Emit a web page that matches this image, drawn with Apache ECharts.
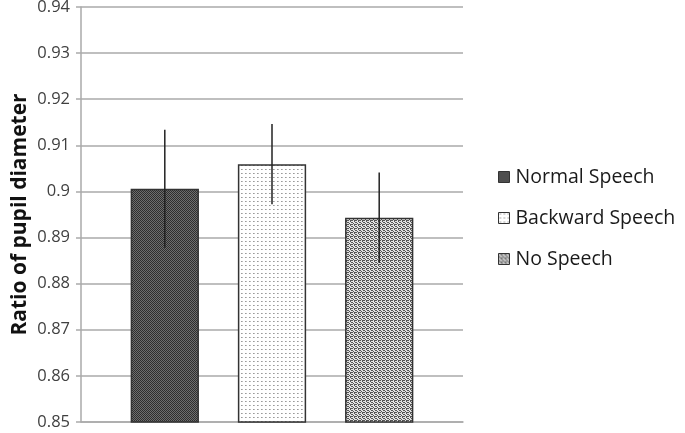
<!DOCTYPE html>
<html>
<head>
<meta charset="utf-8">
<script src="https://cdn.jsdelivr.net/npm/echarts@6/dist/echarts.min.js"></script>
<style>html,body{margin:0;padding:0;background:#fff}#c{width:685px;height:433px}</style>
</head>
<body>
<div id="c"></div>
<script>
const seriesNames = ['Normal Speech', 'Backward Speech', 'No Speech'];
const means = [0.9006, 0.9059, 0.8943];
const errors = [0.0128, 0.0087, 0.0098];
const yMin = 0.85, yMax = 0.94, yStep = 0.01;

function makePattern(tile) {
  const h = tile.length, w = tile[0].length;
  const cv = document.createElement('canvas');
  cv.width = w; cv.height = h;
  const ctx = cv.getContext('2d');
  for (let y = 0; y < h; y++) for (let x = 0; x < w; x++) {
    ctx.fillStyle = tile[y][x];
    ctx.fillRect(x, y, 1, 1);
  }
  return { image: cv, repeat: 'repeat' };
}
const D = '#2e2e2e', M = '#6e6e6e', W = '#ffffff', G = '#9a9a9a', L = '#e2e2e2', K = '#555555';
const patterns = [
  makePattern([[D, M], [M, D]]),
  makePattern([[W, W, W, W], [W, G, '#bdbdbd', W], [W, W, W, W], [W, W, W, W]]),
  makePattern([[K, L, K, K], [L, L, K, L], [K, L, L, K], [L, K, L, L]])
];

const chart = echarts.init(document.getElementById('c'), null, { renderer: 'canvas' });
const barGap = 0.57, catGap = 0.26;

const barSeries = seriesNames.map((name, i) => ({
  name: name,
  type: 'bar',
  data: [means[i]],
  barGap: (barGap * 100) + '%',
  barCategoryGap: (catGap * 100) + '%',
  itemStyle: { color: patterns[i], borderColor: '#333', borderWidth: 1.5 },
  emphasis: { disabled: true },
  z: 2
}));

const errorSeries = {
  type: 'custom',
  name: 'err',
  data: seriesNames.map((n, i) => [0, means[i], errors[i], i]),
  renderItem: function (params, api) {
    const idx = api.value(3);
    const band = api.size([1, 0])[0];
    const n = seriesNames.length;
    const bw = band * (1 - catGap) / (n + (n - 1) * barGap);
    const total = n * bw + (n - 1) * bw * barGap;
    const c = api.coord([0, api.value(1)]);
    const x = c[0] - total / 2 + bw / 2 + idx * bw * (1 + barGap);
    const top = api.coord([0, api.value(1) + api.value(2)])[1];
    const bot = api.coord([0, api.value(1) - api.value(2)])[1];
    return { type: 'line', shape: { x1: x, y1: top, x2: x, y2: bot }, style: { stroke: '#222', lineWidth: 1.5 } };
  },
  z: 5,
  silent: true
};

chart.setOption({
  animation: false,
  grid: { left: 81, right: 222, top: 7, bottom: 11, containLabel: false, outerBoundsMode: 'none' },
  legend: {
    data: seriesNames,
    orient: 'vertical',
    left: 493,
    top: 162,
    itemWidth: 11,
    itemHeight: 11,
    itemGap: 21,
    icon: 'rect',
    itemStyle: { borderColor: '#333', borderWidth: 1 },
    textStyle: { fontFamily: 'Open Sans', fontSize: 19.5, color: '#1a1a1a', padding: [0, 0, 0, 1] }
  },
  xAxis: {
    type: 'category',
    data: [''],
    axisLine: { lineStyle: { color: '#aaa', width: 1.5 } },
    axisTick: { show: false },
    axisLabel: { show: false }
  },
  yAxis: {
    type: 'value',
    min: yMin, max: yMax, interval: yStep,
    name: 'Ratio of pupil diameter',
    nameLocation: 'middle',
    nameGap: 50,
    nameMoveOverlap: false,
    nameTextStyle: { fontFamily: 'Open Sans', fontSize: 21, fontWeight: 'bold', color: '#111' },
    axisLine: { show: true, lineStyle: { color: '#aaa', width: 1.5 } },
    axisTick: { show: true, length: 5, lineStyle: { color: '#aaa', width: 1.5 } },
    axisLabel: {
      fontFamily: 'Open Sans', fontSize: 16.5, color: '#404040', margin: 11,
      formatter: v => String(parseFloat(v.toFixed(2)))
    },
    splitLine: { lineStyle: { color: '#aaa', width: 1.5 } }
  },
  series: barSeries.concat([errorSeries])
});
</script>
</body>
</html>
